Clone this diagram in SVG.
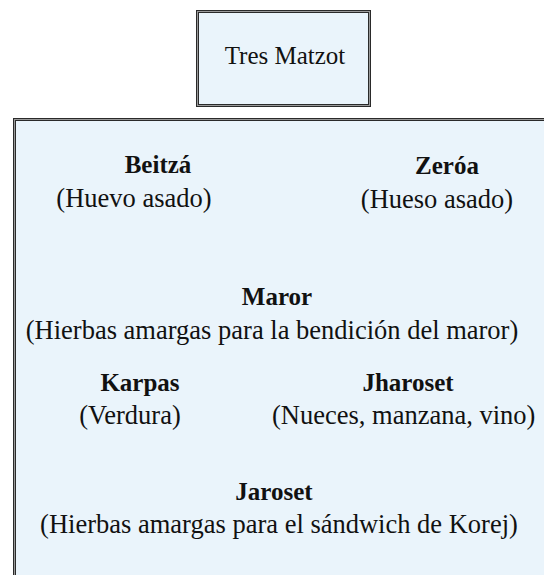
<svg xmlns="http://www.w3.org/2000/svg" width="544" height="575" viewBox="0 0 544 575">
<style>
.box{fill:#EAF4FB;stroke:#2a2a2a;stroke-width:3}
.inner{fill:none;stroke:#9a9a9a;stroke-width:1}
text{font-family:"Liberation Serif","Times New Roman",serif;font-size:26.5px;fill:#111;text-anchor:middle}
.b{font-weight:bold;font-size:25px}
.t{font-size:25px}
</style>
<rect width="544" height="575" fill="#ffffff"/>
<g id="tres-matzot">
<rect class="box" x="197.5" y="11.5" width="172" height="94"/>
<rect class="inner" x="197.5" y="11.5" width="172" height="94"/>
<text class="t" x="285" y="64">Tres Matzot</text>
</g>
<g id="plato">
<rect class="box" x="14.5" y="119.5" width="560" height="480"/>
<rect class="inner" x="14.5" y="119.5" width="560" height="480"/>
</g>
<g id="beitza">
<text class="b" x="158" y="173">Beitzá</text>
<text x="134" y="207">(Huevo asado)</text>
</g>
<g id="zeroa">
<text class="b" x="447" y="174">Zeróa</text>
<text x="437" y="208">(Hueso asado)</text>
</g>
<g id="maror">
<text class="b" x="277" y="305">Maror</text>
<text x="272" y="339">(Hierbas amargas para la bendición del maror)</text>
</g>
<g id="karpas">
<text class="b" x="140" y="391">Karpas</text>
<text x="130" y="424">(Verdura)</text>
</g>
<g id="jharoset">
<text class="b" x="408" y="391">Jharoset</text>
<text style="text-anchor:start" x="272" y="424">(Nueces, manzana, vino)</text>
</g>
<g id="jaroset">
<text class="b" x="274" y="500">Jaroset</text>
<text x="279" y="533">(Hierbas amargas para el sándwich de Korej)</text>
</g>
<g id="connectors"/>
</svg>
